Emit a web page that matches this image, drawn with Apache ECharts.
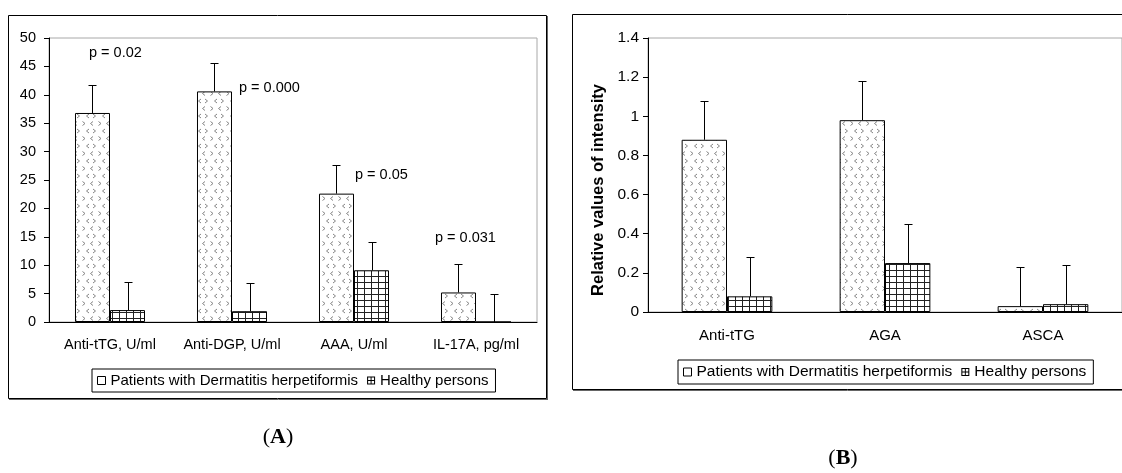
<!DOCTYPE html>
<html><head><meta charset="utf-8">
<script src="https://cdn.jsdelivr.net/npm/echarts@6/dist/echarts.min.js"></script>
<style>html,body{margin:0;padding:0;background:#fff}#c{width:1122px;height:473px}</style>
</head><body><div id="c"></div>
<script>
// ---------- data ----------
const seriesNames = ['Patients with Dermatitis herpetiformis', 'Healthy persons'];

const catsA = ['Anti-tTG, U/ml', 'Anti-DGP, U/ml', 'AAA, U/ml', 'IL-17A, pg/ml'];
const patientsA = [36.8, 40.6, 22.6, 5.2];
const healthyA = [2.1, 1.9, 9.1, 0];
const errPatientsA = [5, 5, 5, 5];
const errHealthyA = [5, 5, 5, 5];
const pLabelsA = ['p = 0.02', 'p = 0.000', 'p = 0.05', 'p = 0.031'];
const pLabelValueA = [47.4, 41.2, 25.9, 14.8];

const catsB = ['Anti-tTG', 'AGA', 'ASCA'];
const patientsB = [0.88, 0.98, 0.03];
const healthyB = [0.08, 0.25, 0.04];
const errPatientsB = [0.2, 0.2, 0.2];
const errHealthyB = [0.2, 0.2, 0.2];
const yTicksB = ['0', '0.2', '0.4', '0.6', '0.8', '1', '1.2', '1.4'];

// ---------- layout / style ----------
const FONT = 'Liberation Sans, Arial, sans-serif';
const GAP = 0.426;                 // barCategoryGap fraction
const pLabelDxA = [-21, 7, 1, -41]; // px offsets of p-labels from category centre

function chevronPattern() {
  const c = document.createElement('canvas'); c.width = 16; c.height = 15;
  const g = c.getContext('2d');
  g.fillStyle = '#fff'; g.fillRect(0, 0, 16, 15);
  g.strokeStyle = '#858585'; g.lineWidth = 1;
  const gt = (x, y) => { g.beginPath(); g.moveTo(x, y); g.lineTo(x + 2.5, y + 2); g.lineTo(x, y + 4); g.stroke(); };
  const lt = (x, y) => { g.beginPath(); g.moveTo(x + 2.5, y); g.lineTo(x, y + 2); g.lineTo(x + 2.5, y + 4); g.stroke(); };
  gt(2.5, 1.5); lt(10.5, 1.5);
  lt(6.5, 9); gt(13, 9);
  return { image: c, repeat: 'repeat' };
}
function gridPattern() {
  const c = document.createElement('canvas'); c.width = 7; c.height = 6;
  const g = c.getContext('2d');
  g.fillStyle = '#fff'; g.fillRect(0, 0, 7, 6);
  g.fillStyle = '#222'; g.fillRect(0, 0, 7, 1); g.fillRect(0, 0, 1, 6);
  return { image: c, repeat: 'repeat' };
}
const patPatients = chevronPattern();
const patHealthy = gridPattern();

function errRender(params, api) {
  const c = api.value(0), v = api.value(1), e = api.value(2), s = api.value(3);
  const base = api.coord([c, v]);
  const top = api.coord([c, v + e]);
  const bw = api.size([1, 0])[0] * (1 - GAP) / 2;
  const x = Math.round(base[0] + (s === 0 ? -bw / 2 : bw / 2)) + 0.5;
  const yt = Math.round(top[1]) + 0.5;
  return {
    type: 'group', children: [
      { type: 'line', shape: { x1: x, y1: base[1], x2: x, y2: yt }, style: { stroke: '#000', lineWidth: 1 } },
      { type: 'line', shape: { x1: x - 4, y1: yt, x2: x + 4, y2: yt }, style: { stroke: '#000', lineWidth: 1 } }
    ]
  };
}
function pRender(params, api) {
  const pt = api.coord([api.value(0), api.value(1)]);
  return {
    type: 'text', x: pt[0] + pLabelDxA[params.dataIndex], y: pt[1],
    style: { text: pLabelsA[params.dataIndex], fill: '#000', fontSize: 14.5, fontFamily: FONT, align: 'left', verticalAlign: 'middle' }
  };
}
const errDataA = catsA.map((c, i) => [i, patientsA[i], errPatientsA[i], 0])
  .concat(catsA.map((c, i) => [i, healthyA[i], errHealthyA[i], 1]));
const errDataB = catsB.map((c, i) => [i, patientsB[i], errPatientsB[i], 0])
  .concat(catsB.map((c, i) => [i, healthyB[i], errHealthyB[i], 1]));

const legendData = [
  { name: seriesNames[0], icon: 'rect', itemStyle: { color: '#fff', borderColor: '#000', borderWidth: 1 } },
  { name: seriesNames[1], icon: 'path://M0,0H10V1.3H0Z M0,8.7H10V10H0Z M0,0H1.3V10H0Z M8.7,0H10V10H8.7Z M4.4,0H5.6V10H4.4Z M0,4.4H10V5.6H0Z', itemStyle: { color: '#000', borderWidth: 0 } }
];
function legendCfg(left, top, fs) {
  return {
    left: left, top: top, orient: 'horizontal', itemWidth: 8, itemHeight: 8, itemGap: 9,
    padding: [4, 7, 4, 5], borderColor: '#000', borderWidth: 1, backgroundColor: '#fff',
    selectedMode: false,
    textStyle: { fontSize: fs, color: '#000', fontFamily: FONT }, data: legendData
  };
}
const axisBlack = { lineStyle: { color: '#000', width: 1 } };

const chart = echarts.init(document.getElementById('c'), null, { renderer: 'canvas' });
chart.setOption({
  animation: false,
  textStyle: { fontFamily: FONT },
  grid: [
    { left: 49, top: 38, width: 488, height: 284, show: true, borderColor: '#a8a8a8', borderWidth: 1, backgroundColor: '#fff' },
    { left: 648, top: 38, width: 477, height: 274, show: true, borderColor: '#a8a8a8', borderWidth: 1, backgroundColor: '#fff' }
  ],
  xAxis: [
    { type: 'category', gridIndex: 0, data: catsA, axisLine: axisBlack, axisTick: { length: 5, lineStyle: { color: '#000' } },
      axisLabel: { color: '#000', fontSize: 14.5, margin: 15, interval: 0 } },
    { type: 'category', gridIndex: 1, data: catsB, axisLine: axisBlack, axisTick: { length: 5, lineStyle: { color: '#000' } },
      axisLabel: { color: '#000', fontSize: 15, margin: 16, interval: 0 } }
  ],
  yAxis: [
    { type: 'value', gridIndex: 0, min: 0, max: 50, interval: 5, axisLine: { show: true, lineStyle: { color: '#000' } },
      axisTick: { show: true, length: 5, lineStyle: { color: '#000' } }, splitLine: { show: false },
      axisLabel: { color: '#000', fontSize: 14.5, margin: 13 } },
    { type: 'value', gridIndex: 1, min: 0, max: 1.4, interval: 0.2, axisLine: { show: true, lineStyle: { color: '#000' } },
      axisTick: { show: true, length: 5, lineStyle: { color: '#000' } }, splitLine: { show: false },
      axisLabel: { color: '#000', fontSize: 15.5, margin: 9, formatter: (v) => yTicksB[Math.round(v / 0.2)] } }
  ],
  legend: [legendCfg(92, 369, 15), legendCfg(678, 360, 15.5)],
  series: [
    { type: 'bar', name: seriesNames[0], xAxisIndex: 0, yAxisIndex: 0, data: patientsA, barGap: '0%', barCategoryGap: (GAP * 100) + '%',
      itemStyle: { color: patPatients, borderColor: '#000', borderWidth: 1 } },
    { type: 'bar', name: seriesNames[1], xAxisIndex: 0, yAxisIndex: 0, data: healthyA, barGap: '0%', barCategoryGap: (GAP * 100) + '%',
      itemStyle: { color: patHealthy, borderColor: '#000', borderWidth: 1 } },
    { type: 'bar', name: seriesNames[0], xAxisIndex: 1, yAxisIndex: 1, data: patientsB, barGap: '0%', barCategoryGap: (GAP * 100) + '%',
      itemStyle: { color: patPatients, borderColor: '#000', borderWidth: 1 } },
    { type: 'bar', name: seriesNames[1], xAxisIndex: 1, yAxisIndex: 1, data: healthyB, barGap: '0%', barCategoryGap: (GAP * 100) + '%',
      itemStyle: { color: patHealthy, borderColor: '#000', borderWidth: 1 } },
    { type: 'custom', xAxisIndex: 0, yAxisIndex: 0, data: errDataA, renderItem: errRender, z: 5, silent: true },
    { type: 'custom', xAxisIndex: 1, yAxisIndex: 1, data: errDataB, renderItem: errRender, z: 5, silent: true },
    { type: 'custom', xAxisIndex: 0, yAxisIndex: 0, data: pLabelValueA.map((v, i) => [i, v]), renderItem: pRender, z: 6, silent: true }
  ],
  graphic: [
    { type: 'rect', shape: { x: 8.5, y: 15.5, width: 538, height: 383 }, style: { fill: null, stroke: '#000', lineWidth: 1 }, z: -1 },
    { type: 'line', shape: { x1: 547.5, y1: 16, x2: 547.5, y2: 400 }, style: { stroke: '#666', lineWidth: 1 }, z: -1 },
    { type: 'line', shape: { x1: 9, y1: 399.5, x2: 548, y2: 399.5 }, style: { stroke: '#666', lineWidth: 1 }, z: -1 },
    { type: 'rect', shape: { x: 572.5, y: 14.5, width: 580, height: 375 }, style: { fill: null, stroke: '#000', lineWidth: 1 }, z: -1 },
    { type: 'line', shape: { x1: 573, y1: 390.5, x2: 1122, y2: 390.5 }, style: { stroke: '#666', lineWidth: 1 }, z: -1 },
    { type: 'text', x: 598, y: 190, rotation: Math.PI / 2,
      style: { text: 'Relative values of intensity', fontWeight: 'bold', fontSize: 16.5, fontFamily: FONT, fill: '#000', align: 'center', verticalAlign: 'middle' } },
    { type: 'text', x: 278, y: 437,
      style: { text: '({b|A})', fontSize: 22, fontFamily: 'Liberation Serif, serif', fill: '#000', align: 'center', verticalAlign: 'middle',
        rich: { b: { fontWeight: 'bold', fontSize: 22, fontFamily: 'Liberation Serif, serif' } } } },
    { type: 'text', x: 843, y: 458,
      style: { text: '({b|B})', fontSize: 22, fontFamily: 'Liberation Serif, serif', fill: '#000', align: 'center', verticalAlign: 'middle',
        rich: { b: { fontWeight: 'bold', fontSize: 22, fontFamily: 'Liberation Serif, serif' } } } }
  ]
});
</script>
</body></html>
